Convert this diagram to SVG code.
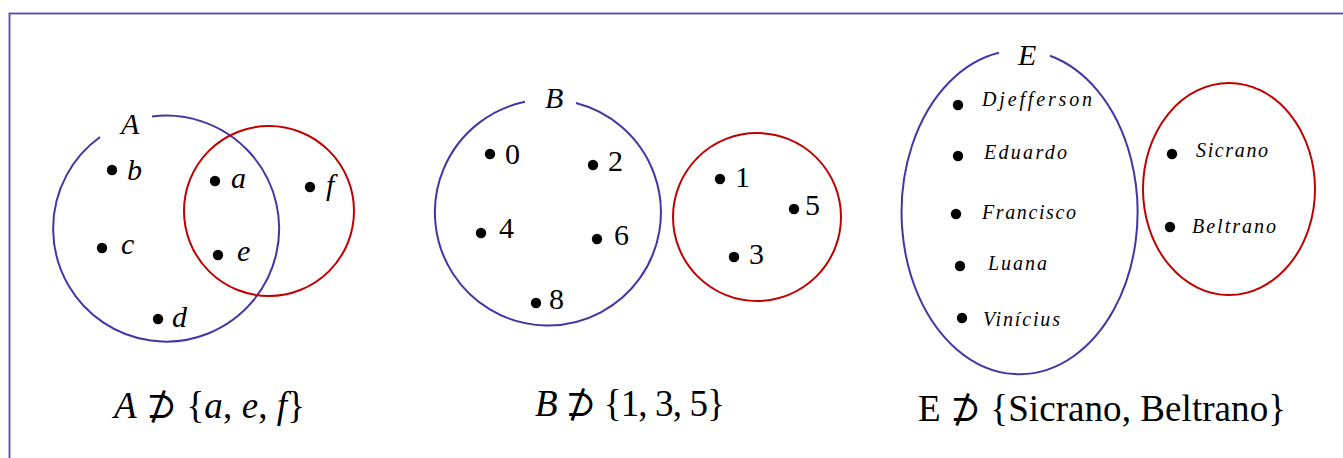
<svg xmlns="http://www.w3.org/2000/svg" width="1343" height="458" viewBox="0 0 1343 458">
<style>
.blue{fill:none;stroke:#4534a8;stroke-width:2}
.red{fill:none;stroke:#c00000;stroke-width:2}
.dot{fill:#000}
.it{font-family:"Liberation Serif","DejaVu Serif",serif;font-style:italic;fill:#000}
.up{font-family:"Liberation Serif","DejaVu Serif",serif;fill:#000}
.i{font-style:italic}
.sym{font-family:"DejaVu Serif",serif;font-style:normal}
.sm{font-size:30px}
.nm{font-size:20px;font-family:"Liberation Serif","DejaVu Serif",serif;font-style:italic;fill:#000}
.big{font-size:37px}
</style>
<rect x="9.5" y="13.5" width="1345" height="460" fill="none" stroke="#5646b8" stroke-width="1.8"/>

<g id="setA">
<path class="blue" d="M152,116.5 A113,113 0 1 1 100,137"/>
<text class="it sm" x="121" y="134">A</text>
<circle class="red" cx="269" cy="211" r="85"/>
<circle class="dot" cx="112" cy="170" r="5.2"/><text class="it sm" x="127" y="180">b</text>
<circle class="dot" cx="215" cy="181" r="5.2"/><text class="it sm" x="231" y="188">a</text>
<circle class="dot" cx="310" cy="187" r="5.2"/><text class="it sm" x="326" y="195">f</text>
<circle class="dot" cx="102" cy="248" r="5.2"/><text class="it sm" x="121" y="254">c</text>
<circle class="dot" cx="218" cy="255" r="5.2"/><text class="it sm" x="237" y="261">e</text>
<circle class="dot" cx="158" cy="319" r="5.2"/><text class="it sm" x="172" y="327">d</text>
<text class="up big" x="114" y="418" textLength="191" lengthAdjust="spacing"><tspan class="i">A</tspan> <tspan class="sym">⊅</tspan> {<tspan class="i">a</tspan>, <tspan class="i">e</tspan>, <tspan class="i">f</tspan>}</text>
</g>

<g id="setB">
<path class="blue" d="M576,103 A113,113 0 1 1 525,101.8"/>
<text class="it sm" x="545" y="108">B</text>
<circle class="red" cx="757" cy="217" r="84"/>
<circle class="dot" cx="490" cy="154" r="5.2"/><text class="up sm" x="505" y="164">0</text>
<circle class="dot" cx="593" cy="165" r="5.2"/><text class="up sm" x="608" y="171">2</text>
<circle class="dot" cx="481" cy="233" r="5.2"/><text class="up sm" x="499" y="238">4</text>
<circle class="dot" cx="597" cy="239" r="5.2"/><text class="up sm" x="614" y="245">6</text>
<circle class="dot" cx="536" cy="303" r="5.2"/><text class="up sm" x="549" y="309">8</text>
<circle class="dot" cx="720" cy="179" r="5.2"/><text class="up sm" x="735" y="187">1</text>
<circle class="dot" cx="794" cy="209" r="5.2"/><text class="up sm" x="805" y="215">5</text>
<circle class="dot" cx="734" cy="257" r="5.2"/><text class="up sm" x="749" y="264">3</text>
<text class="up big" x="535" y="416" textLength="190" lengthAdjust="spacing"><tspan class="i">B</tspan> <tspan class="sym">⊅</tspan> {1, 3, 5}</text>
</g>

<g id="setE">
<path class="blue" d="M1050,55.7 A118,162 0 1 1 999,52.7"/>
<text class="it sm" x="1018" y="65">E</text>
<ellipse class="red" cx="1229" cy="189" rx="86" ry="106"/>
<circle class="dot" cx="958" cy="105" r="5.2"/><text class="nm" x="982" y="106" textLength="110" lengthAdjust="spacing">Djefferson</text>
<circle class="dot" cx="958" cy="156" r="5.2"/><text class="nm" x="984" y="159" textLength="83" lengthAdjust="spacing">Eduardo</text>
<circle class="dot" cx="956" cy="214" r="5.2"/><text class="nm" x="982" y="219" textLength="94" lengthAdjust="spacing">Francisco</text>
<circle class="dot" cx="960" cy="266" r="5.2"/><text class="nm" x="988" y="270" textLength="59" lengthAdjust="spacing">Luana</text>
<circle class="dot" cx="962" cy="318" r="5.2"/><text class="nm" x="983" y="326" textLength="77" lengthAdjust="spacing">Vinícius</text>
<circle class="dot" cx="1172" cy="154" r="5.2"/><text class="nm" x="1196" y="157" textLength="72" lengthAdjust="spacing">Sicrano</text>
<circle class="dot" cx="1170" cy="227" r="5.2"/><text class="nm" x="1192" y="233" textLength="84" lengthAdjust="spacing">Beltrano</text>
<text class="up big" x="918" y="421" textLength="368" lengthAdjust="spacing">E <tspan class="sym">⊅</tspan> {Sicrano, Beltrano}</text>
</g>
</svg>
